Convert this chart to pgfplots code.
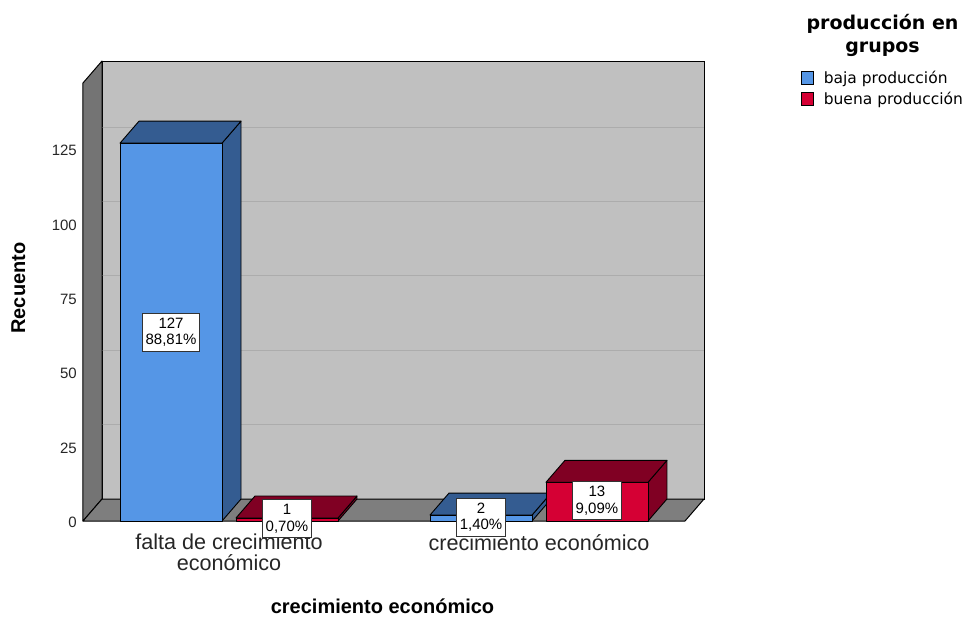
\documentclass[border=0pt]{standalone}
\usepackage{fontspec}
\setmainfont{Liberation Sans}
\newfontfamily\dejavu{DejaVu Sans}
\usepackage{pgfplots}
\pgfplotsset{compat=1.18}
\definecolor{bfront}{RGB}{85,150,230}
\definecolor{bdark}{RGB}{52,92,145}
\definecolor{rfront}{RGB}{213,0,52}
\definecolor{rdark}{RGB}{128,0,35}
\definecolor{wallback}{RGB}{192,192,192}
\definecolor{wallside}{RGB}{116,116,116}
\definecolor{floorc}{RGB}{126,126,126}
\definecolor{gridc}{RGB}{172,172,172}
\newcommand{\threedbar}[4]{%
 \pgfmathsetmacro\xl{#1-0.1645}%
 \pgfmathsetmacro\xr{#1+0.1645}%
 \pgfmathsetmacro\xlb{#1-0.1645+0.0613}%
 \pgfmathsetmacro\xrb{#1+0.1645+0.0613}%
 \pgfmathsetmacro\vb{#2+7.39}%
 \addplot[fill=#4, draw=black, line width=0.9pt, line join=round, mark=none, forget plot] coordinates {(\xr,0) (\xrb,7.39) (\xrb,\vb) (\xr,#2)} -- cycle;
 \addplot[fill=#4, draw=black, line width=0.9pt, line join=round, mark=none, forget plot] coordinates {(\xl,#2) (\xr,#2) (\xrb,\vb) (\xlb,\vb)} -- cycle;
 \addplot[fill=#3, draw=black, line width=0.9pt, line join=round, mark=none, forget plot] coordinates {(\xl,0) (\xr,0) (\xr,#2) (\xl,#2)} -- cycle;
}
\begin{document}
\begin{tikzpicture}
\begin{axis}[name=ax, width=602pt, height=438pt, scale only axis, clip=false,
  xmin=-0.471, xmax=1.471, ymin=0, ymax=147.2,
  axis line style={draw=none}, major tick length=0pt,
  /pgf/number format/assume math mode=true,
  xtick={0,1},
  xticklabels={{falta de crecimiento\\económico},{crecimiento económico}},
  xticklabel style={font=\fontsize{21.6}{21}\selectfont, align=center, anchor=north, inner sep=0pt, yshift=-13pt, text=black!85},
  ytick={0,25,50,75,100,125},
  yticklabel style={font=\fontsize{15}{15}\selectfont, anchor=east, inner sep=0pt, xshift=-6pt, yshift=-1.5pt, text=black!85},
  legend style={draw=none, fill=none, inner sep=0pt, at={(1.1927,1.0274)}, anchor=north west,
    font=\dejavu\fontsize{15.5}{18}\selectfont, row sep=6.6pt, nodes={inner sep=0pt}},
  legend cell align=left,
]
% back wall
\addplot[fill=wallback, draw=black, line width=1pt, mark=none, forget plot] coordinates {(-0.4097,7.39) (1.5323,7.39) (1.5323,154.59) (-0.4097,154.59)} -- cycle;
% grid lines on back wall
\addplot[gridc, line width=0.8pt, mark=none, forget plot] coordinates {(-0.4097,32.39) (1.5323,32.39)};
\addplot[gridc, line width=0.8pt, mark=none, forget plot] coordinates {(-0.4097,57.39) (1.5323,57.39)};
\addplot[gridc, line width=0.8pt, mark=none, forget plot] coordinates {(-0.4097,82.39) (1.5323,82.39)};
\addplot[gridc, line width=0.8pt, mark=none, forget plot] coordinates {(-0.4097,107.39) (1.5323,107.39)};
\addplot[gridc, line width=0.8pt, mark=none, forget plot] coordinates {(-0.4097,132.39) (1.5323,132.39)};
% side wall
\addplot[fill=wallside, draw=black, line width=1pt, line join=round, mark=none, forget plot] coordinates {(-0.471,0) (-0.4097,7.39) (-0.4097,154.59) (-0.471,147.2)} -- cycle;
% floor
\addplot[fill=floorc, draw=black, line width=1pt, line join=round, mark=none, forget plot] coordinates {(-0.471,0) (1.471,0) (1.5323,7.39) (-0.4097,7.39)} -- cycle;
% bars
\threedbar{-0.187}{127}{bfront}{bdark}
\threedbar{0.187}{1}{rfront}{rdark}
\threedbar{0.813}{2}{bfront}{bdark}
\threedbar{1.187}{13}{rfront}{rdark}
% legend
\addlegendimage{legend image code/.code={\draw[fill=bfront,draw=black,line width=0.8pt] (0pt,-6.5pt) rectangle (12pt,6.5pt); \path (22pt,0pt);}}
\addlegendentry{baja producción}
\addlegendimage{legend image code/.code={\draw[fill=rfront,draw=black,line width=0.8pt] (0pt,-6.5pt) rectangle (12pt,6.5pt); \path (22pt,0pt);}}
\addlegendentry{buena producción}
% value labels
\tikzset{lbl/.style={fill=white, draw=black!80, line width=0.7pt, inner xsep=3pt, inner ysep=4.5pt, align=center, font=\fontsize{15}{16.5}\selectfont}}
\node[lbl] at (axis cs:-0.187,63.5) {127\\88,81\%};
\node[lbl] at (axis cs:0.187,0.8) {1\\0,70\%};
\node[lbl] at (axis cs:0.813,1.2) {2\\1,40\%};
\node[lbl] at (axis cs:1.187,6.8) {13\\9,09\%};
\end{axis}
\node[rotate=90, font=\bfseries\fontsize{20}{20}\selectfont, inner sep=0pt] at ([shift={(-64.7pt,233pt)}]ax.south west) {Recuento};
\node[anchor=base, font=\bfseries\fontsize{20}{20}\selectfont, inner sep=0pt] at ([shift={(299.5pt,-92pt)}]ax.south west) {crecimiento económico};
\node[anchor=base, font=\dejavu\bfseries\fontsize{19}{19}\selectfont, inner sep=0pt] at ([shift={(799.5pt,491pt)}]ax.south west) {producción en};
\node[anchor=base, font=\dejavu\bfseries\fontsize{19}{19}\selectfont, inner sep=0pt] at ([shift={(799.5pt,468pt)}]ax.south west) {grupos};
\pgfresetboundingbox
\path[use as bounding box] ([shift={(-83pt,-98pt)}]ax.south west) rectangle ([shift={(883pt,521pt)}]ax.south west);
\end{tikzpicture}
\end{document}
